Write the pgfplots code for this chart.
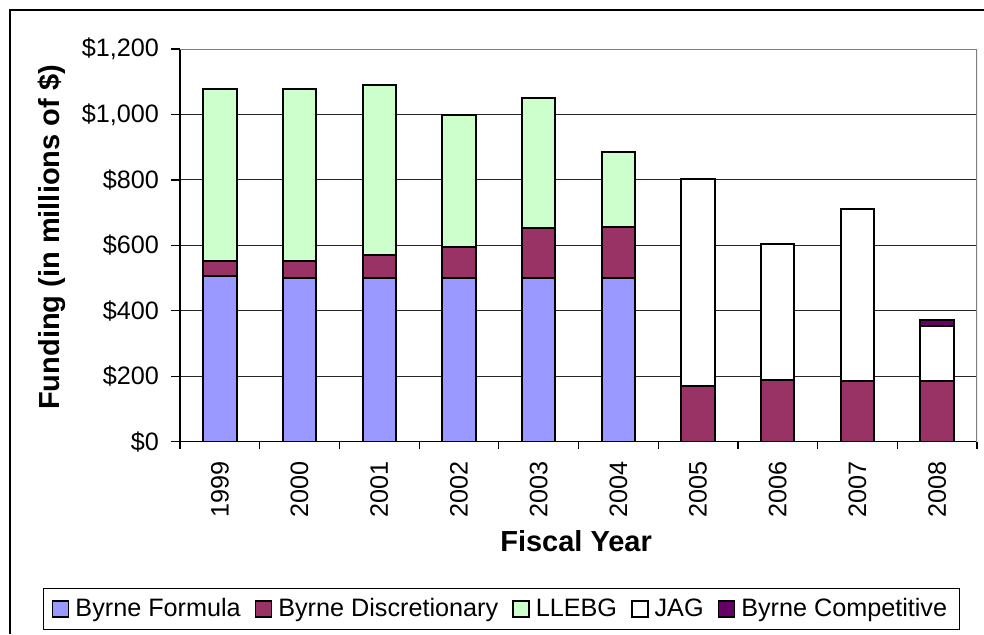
\documentclass[border=0pt]{standalone}
\usepackage{pgfplots}
\pgfplotsset{compat=1.18}
\usepackage{fontspec}
\setmainfont{Liberation Sans}
\definecolor{bformula}{HTML}{9999FF}
\definecolor{bdisc}{HTML}{993366}
\definecolor{llebg}{HTML}{CCFFCC}
\definecolor{bcomp}{HTML}{660066}
\begin{document}
\begin{tikzpicture}
\path[use as bounding box] (0,0) rectangle (492pt,317pt);
\draw[line width=1pt] (5pt,0) -- (5pt,312pt) -- (492pt,312pt);
\begin{axis}[
  at={(90pt,96.15pt)}, anchor=south west,
  scale only axis, width=398.5pt, height=196.35pt,
  ybar stacked, bar width=0.42,
  xmin=-0.5, xmax=9.5, ymin=0, ymax=1200,
  axis lines=left, axis line style={-, black, line width=0.6pt},
  /pgf/number format/assume math mode=true,
  xtick={0,...,9},
  xticklabels={1999,2000,2001,2002,2003,2004,2005,2006,2007,2008},
  major x tick style={draw=none},
  minor xtick={-0.5,0.5,...,9.5},
  minor tick length=3.5pt,
  minor x tick style={black, line width=0.6pt},
  xticklabel style={rotate=90, anchor=east, font=\fontsize{12.6}{14}\selectfont, xshift=-2pt},
  ytick={0,200,...,1200},
  yticklabels={\$0,\$200,\$400,\$600,\$800,{\$1,000},{\$1,200}},
  yticklabel style={font=\fontsize{12.6}{14}\selectfont, xshift=-2.5pt},
  major y tick style={black, line width=0.6pt},
  major tick length=4.5pt, tick align=outside,
  ymajorgrids, grid style={black!85, line width=0.5pt},
  xlabel={Fiscal Year},
  ylabel={Funding (in millions of \$)},
  xlabel style={font=\bfseries\fontsize{14.5}{16}\selectfont, at={(axis description cs:0.497,-0.253)}, anchor=center},
  ylabel style={font=\bfseries\fontsize{14.5}{16}\selectfont, at={(axis description cs:-0.1606,0.52)}, anchor=center},
  legend columns=5,
  legend style={draw=black, line width=0.5pt, at={(axis description cs:0.4034,-0.426)}, anchor=center,
    font=\fontsize{12.6}{14}\selectfont, inner xsep=4pt, inner ysep=3pt,
    /tikz/every even column/.append style={column sep=5pt},
    /tikz/every odd column/.append style={column sep=1pt}},
  legend image code/.code={\draw[#1, line width=0.8pt] (0pt,-4pt) rectangle (8pt,4pt);},
  every axis plot/.append style={draw=black, line width=1pt},
]
\addplot[fill=bformula] coordinates {(0,506) (1,500) (2,500) (3,500) (4,500) (5,500) (6,0) (7,0) (8,0) (9,0)};
\addplot[fill=bdisc] coordinates {(0,47) (1,53) (2,71) (3,94) (4,152) (5,157) (6,170) (7,190) (8,187) (9,187)};
\addplot[fill=llebg] coordinates {(0,525) (1,525) (2,519) (3,403) (4,398) (5,228) (6,0) (7,0) (8,0) (9,0)};
\addplot[fill=white] coordinates {(0,0) (1,0) (2,0) (3,0) (4,0) (5,0) (6,633) (7,415) (8,524) (9,167)};
\addplot[fill=bcomp] coordinates {(0,0) (1,0) (2,0) (3,0) (4,0) (5,0) (6,0) (7,0) (8,0) (9,19)};
\legend{Byrne Formula, Byrne Discretionary, LLEBG, JAG, Byrne Competitive}
\draw[black!50, line width=0.8pt] (rel axis cs:0,1) -- (rel axis cs:1,1) -- (rel axis cs:1,0);
\end{axis}
\end{tikzpicture}
\end{document}
